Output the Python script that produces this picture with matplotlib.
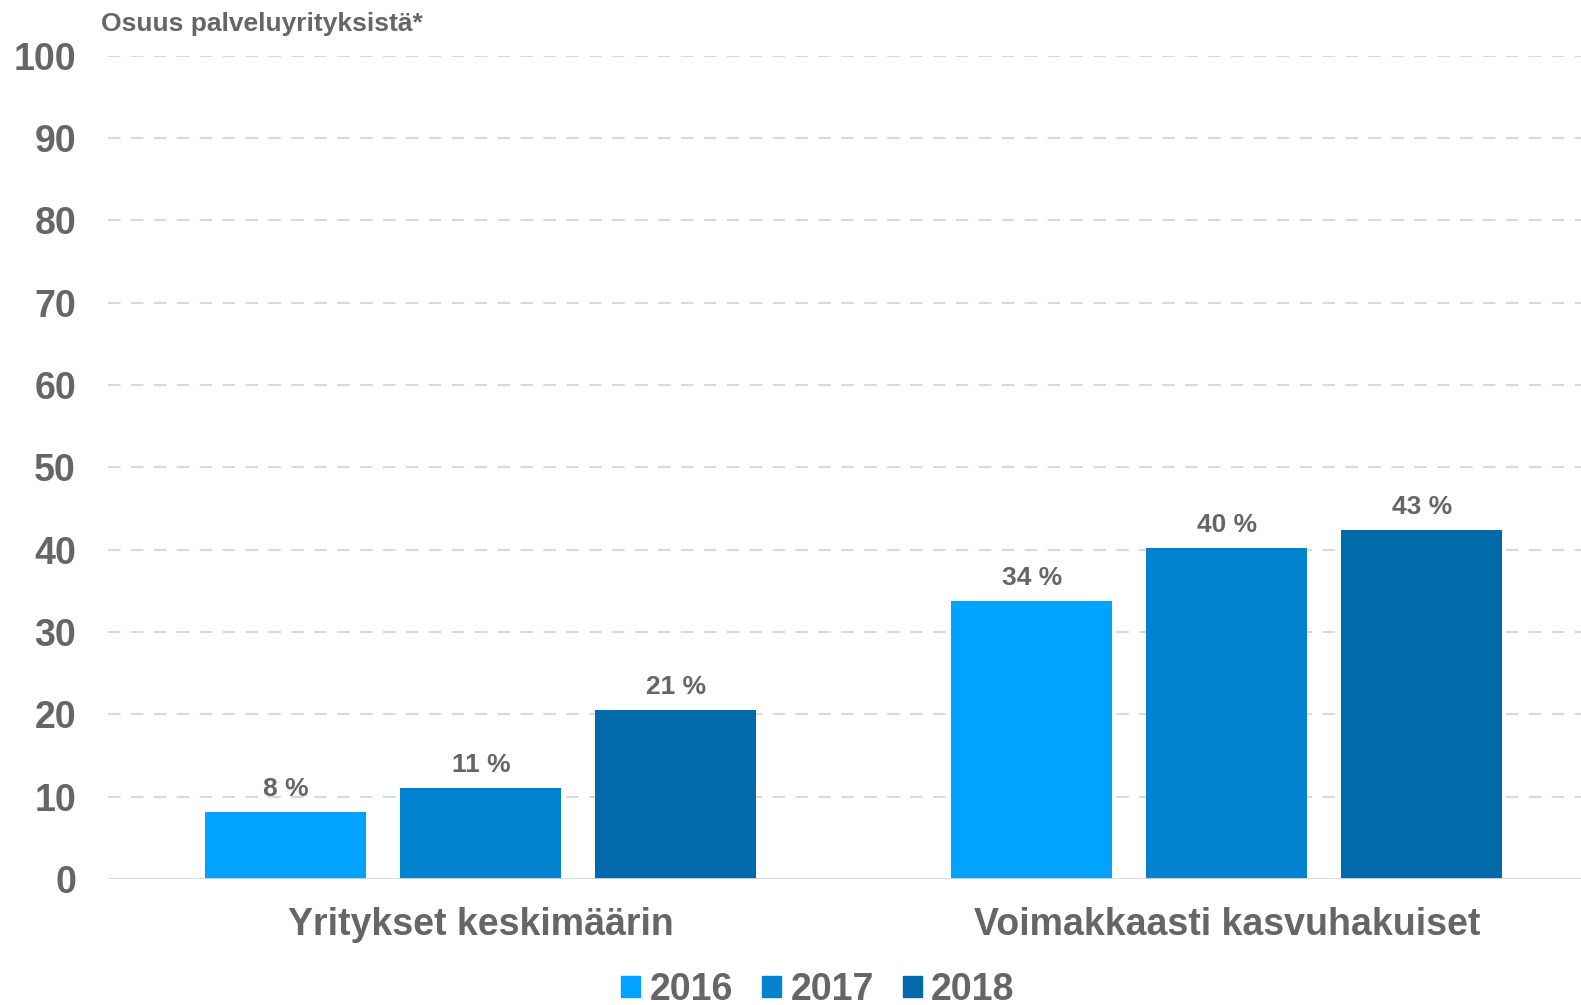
import numpy as np
import matplotlib.pyplot as plt
from matplotlib.patches import Patch

categories = ['Yritykset keskimäärin', 'Voimakkaasti kasvuhakuiset']
years = ['2016', '2017', '2018']
values = {
    '2016': [8.1, 33.8],
    '2017': [11.0, 40.2],
    '2018': [20.5, 42.4],
}
labels = {
    '2016': ['8 %', '34 %'],
    '2017': ['11 %', '40 %'],
    '2018': ['21 %', '43 %'],
}
colors = ['#00A3FF', '#0082CE', '#006AAB']
yticks = [0, 10, 20, 30, 40, 50, 60, 70, 80, 90, 100]

grey = '#666666'
plt.rcParams['font.family'] = ['Liberation Sans', 'DejaVu Sans']

W, H = 1581, 1005
fig = plt.figure(figsize=(W / 100, H / 100), dpi=100)
ax = fig.add_axes([108 / W, 126 / H, (W - 108) / W, (879 - 55.5) / H])

x = np.arange(len(categories))
width = 0.216
step = 0.2615
for i, year in enumerate(years):
    pos = x + (i - 1) * step
    bars = ax.bar(pos, values[year], width, color=colors[i], zorder=3)
    for b, lab in zip(bars, labels[year]):
        ax.annotate(lab, (b.get_x() + b.get_width() / 2, b.get_height()),
                    xytext=(0, 8), textcoords='offset points',
                    ha='center', va='bottom', fontsize=19, fontweight='bold',
                    color=grey)

ax.set_xlim(-0.5, 1.475)
ax.set_ylim(0, 100)
ax.set_yticks(yticks)
ax.set_yticklabels([str(t) for t in yticks], fontsize=27, fontweight='bold', color=grey)
ax.set_xticks(x)
ax.set_xticklabels(categories, fontsize=27, fontweight='bold', color=grey)
ax.tick_params(axis='y', length=0, pad=23)
ax.tick_params(axis='x', length=0, pad=20)

for t in yticks[1:]:
    ax.axhline(t, color='#D9D9D9', lw=1.5, ls=(0, (6, 5)), zorder=1)
ax.axhline(0, color='#D9D9D9', lw=2, zorder=4)
for s in ax.spines.values():
    s.set_visible(False)

fig.text(101 / W, 1 - 24 / H, 'Osuus palveluyrityksistä*', fontsize=19,
         color=grey, ha='left', va='center',
         family=['Liberation Sans Narrow', 'Liberation Sans'], fontweight='bold')

handles = [Patch(color=c, label=y) for c, y in zip(colors, years)]
leg = fig.legend(handles=handles, loc='center', bbox_to_anchor=(818 / W, 15 / H),
                 ncol=3, frameon=False, handlelength=0.5, handleheight=0.5,
                 handletextpad=0.25, columnspacing=0.78, borderpad=0.1,
                 prop={'size': 27, 'weight': 'bold'})
for t in leg.get_texts():
    t.set_color(grey)

fig.savefig('out.png', dpi=100)
